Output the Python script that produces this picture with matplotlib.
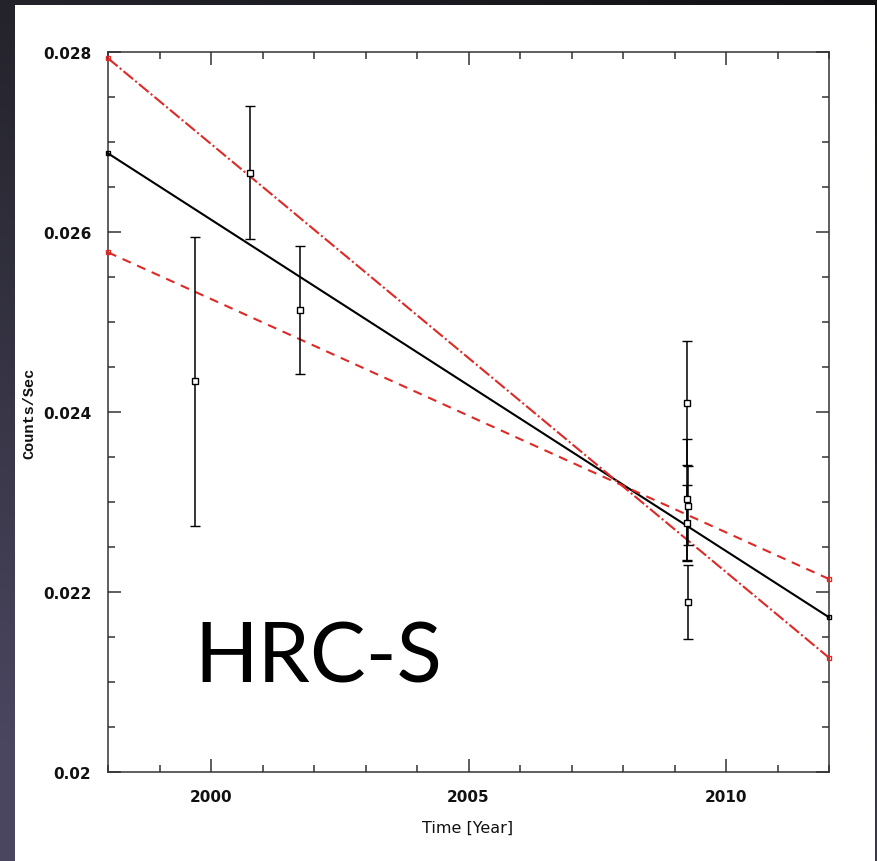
import numpy as np
import matplotlib
matplotlib.use("Agg")
import matplotlib.pyplot as plt
from matplotlib.ticker import MultipleLocator, FuncFormatter
from matplotlib.colors import LinearSegmentedColormap
from matplotlib.patches import Rectangle

# Observed HRC-S count rates
obs_year = [1999.69, 2000.76, 2001.73, 2009.25, 2009.24, 2009.27, 2009.25, 2009.26]
obs_rate = [0.02434, 0.02666, 0.02513, 0.02410, 0.02303, 0.02296, 0.02277, 0.02189]
obs_err = [0.00161, 0.00074, 0.00071, 0.00069, 0.00067, 0.00044, 0.00042, 0.00041]

# Linear fits evaluated at the ends of the time range
fit_year = [1998.0, 2012.0]
fit_best = [0.026874, 0.021719]
fit_steep = [0.02793, 0.02127]
fit_shallow = [0.025774, 0.022144]

x_ticks_major = [2000, 2005, 2010]
y_ticks_major = [0.020, 0.022, 0.024, 0.026, 0.028]

W, H = 878, 862
fig = plt.figure(figsize=(W / 100, H / 100), dpi=100)

# dark slide backdrop with a soft gradient
bg = fig.add_axes([0, 0, 1, 1], zorder=0)
bg.set_axis_off()
cmap = LinearSegmentedColormap.from_list("slide", ["#111114", "#2c2b36", "#4a4660"])
gy, gx = np.mgrid[0:1:200j, 0:1:200j]
grad = np.clip(0.75 * gy + 0.35 * (1 - gx), 0, 1)
bg.imshow(grad, cmap=cmap, aspect="auto", extent=[0, 1, 0, 1], origin="upper")
bg.set_xlim(0, 1)
bg.set_ylim(0, 1)
bg.add_patch(Rectangle((15 / W, 0), (875 - 15) / W, 1 - 6 / H,
                       facecolor="white", edgecolor="none"))

ax = fig.add_axes([108 / W, 1 - 773 / H, (829 - 108) / W, (773 - 53) / H], zorder=1)
ax.set_facecolor("white")

red = "#dd2a26"
lw = 1.5
ax.plot(fit_year, fit_best, color="black", lw=lw, marker="s", ms=3.5,
        mfc="none", mec="black", mew=1.0, clip_on=False, zorder=3)
ax.plot(fit_year, fit_steep, color=red, lw=lw, marker="s", ms=3.5,
        mfc="none", mec=red, mew=1.0, clip_on=False, zorder=3,
        linestyle=(0, (9 / lw, 2 / lw, 1.5 / lw, 2 / lw)))
ax.plot(fit_year, fit_shallow, color=red, lw=lw, marker="s", ms=3.5,
        mfc="none", mec=red, mew=1.0, clip_on=False, zorder=3,
        linestyle=(0, (6.5 / lw, 5 / lw)))

ax.errorbar(obs_year, obs_rate, yerr=obs_err, fmt="s", ms=4, mfc="white",
            mec="black", mew=1.0, ecolor="black", elinewidth=1.1,
            capsize=3.3, capthick=1.1, zorder=4)

ax.set_xlim(1998, 2012)
ax.set_ylim(0.020, 0.028)
ax.set_xticks(x_ticks_major)
ax.set_yticks(y_ticks_major)
ax.xaxis.set_minor_locator(MultipleLocator(1))
ax.yaxis.set_minor_locator(MultipleLocator(0.0005))
ax.yaxis.set_major_formatter(FuncFormatter(lambda v, p: f"{v:g}"))

ax.tick_params(which="both", direction="in", top=True, right=True,
               color="#333333", width=1.1)
ax.tick_params(which="major", length=9.5, pad=12)
ax.tick_params(which="minor", length=5)
for lab in ax.get_xticklabels() + ax.get_yticklabels():
    lab.set_fontfamily("DejaVu Sans")
    lab.set_fontweight("bold")
    lab.set_fontsize(11)
    lab.set_color("#111111")
for s in ax.spines.values():
    s.set_color("#333333")
    s.set_linewidth(1.1)

fig.text(468 / W, 1 - 828 / H, "Time [Year]", ha="center", va="center",
         fontsize=11.5, family="DejaVu Sans", color="#111111")
fig.text(29 / W, 1 - 413 / H, "Counts/Sec", ha="center", va="center",
         rotation=90, fontsize=11, family="Liberation Mono",
         fontweight="bold", color="#111111")

ax.text(0.120, 0.125, "HRC-S", transform=ax.transAxes, ha="left",
        va="baseline", fontsize=60, family="Lato", color="black", zorder=5)

fig.savefig("out.png", dpi=100)
